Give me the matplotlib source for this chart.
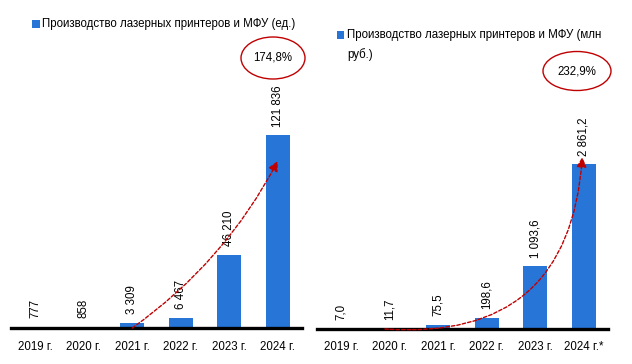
import matplotlib
matplotlib.use("Agg")
import matplotlib.pyplot as plt
from matplotlib.patches import Ellipse, Rectangle
import warnings
warnings.filterwarnings("ignore")

plt.rcParams['font.family'] = ['Liberation Sans', 'DejaVu Sans']

years_left = ["2019 г.", "2020 г.", "2021 г.", "2022 г.", "2023 г.", "2024 г."]
units = [777, 858, 3309, 6467, 46210, 121836]
units_labels = ["777", "858", "3 309", "6 467", "46 210", "121 836"]
legend_left = "Производство лазерных принтеров и МФУ (ед.)"
growth_left = "174,8%"

years_right = ["2019 г.", "2020 г.", "2021 г.", "2022 г.", "2023 г.", "2024 г.*"]
money = [7.0, 11.7, 75.5, 198.6, 1093.6, 2861.2]
money_labels = ["7,0", "11,7", "75,5", "198,6", "1 093,6", "2 861,2"]
legend_right = "Производство лазерных принтеров и МФУ (млн\nруб.)"
growth_right = "232,9%"

BLUE = "#2875D8"
RED = "#C00000"
FS = 8.3
W, H = 632, 364

fig = plt.figure(figsize=(W / 100, H / 100), dpi=100)


def make_axes(x0, x1, ybase, bar_px, vmax):
    top = 5
    ax = fig.add_axes([x0 / W, (H - ybase) / H, (x1 - x0) / W, (ybase - top) / H])
    ax.set_ylim(0, vmax * (ybase - top) / bar_px)
    ax.set_xlim(-0.5, 5.5)
    for s in ["top", "right", "left"]:
        ax.spines[s].set_visible(False)
    ax.spines["bottom"].set_linewidth(2.4)
    ax.spines["bottom"].set_color("black")
    ax.set_yticks([])
    ax.tick_params(axis="x", length=0, pad=9, labelsize=FS)
    ax.patch.set_alpha(0)
    return ax


def draw(ax, cats, vals, labels, leg, leg_pos, growth, ell, arrow_start, arrow_end, rad):
    x = list(range(len(cats)))
    ax.bar(x, vals, width=0.49, color=BLUE)
    ax.set_xticks(x)
    ax.set_xticklabels(cats)
    for xi, v, t in zip(x, vals, labels):
        ax.annotate(t, (xi, v), xytext=(0, 6), textcoords="offset points",
                    rotation=90, ha="center", va="bottom", fontsize=FS)
    # legend: marker square + text (first line centred on the square)
    sx, sy = leg_pos
    fig.patches.append(Rectangle(((sx) / W, (H - sy - 3.5) / H), 7.5 / W, 7.5 / H,
                                 transform=fig.transFigure, color=BLUE, lw=0))
    fig.text((sx + 10) / W, (H - sy + 6) / H, leg, ha="left", va="top",
             fontsize=FS, linespacing=1.75)
    ax.annotate("", xy=arrow_end, xytext=arrow_start,
                arrowprops=dict(arrowstyle="-|>,head_length=0.6,head_width=0.3",
                                color=RED, lw=1.0, linestyle=(0, (2.5, 1.5)),
                                connectionstyle=f"arc3,rad={rad}",
                                shrinkA=0, shrinkB=0))
    cx, cy, ew, eh = ell
    fig.patches.append(Ellipse((cx / W, (H - cy) / H), ew / W, eh / H,
                               transform=fig.transFigure, fill=False,
                               edgecolor=RED, lw=1.0))
    fig.text(cx / W, (H - cy) / H, growth, ha="center", va="center", fontsize=FS)


ax1 = make_axes(11, 302, 328, 193, units[-1])
draw(ax1, years_left, units, units_labels, legend_left, (32, 24),
     growth_left, (273, 58, 64, 42),
     (2.0, 0), (5.0, units[-1] * 167 / 193), 0.12)

ax2 = make_axes(317, 608, 329, 165, money[-1])
draw(ax2, years_right, money, money_labels, legend_right, (337, 35),
     growth_right, (577, 71, 68, 39),
     (0.9, 0), (4.97, money[-1] * 172 / 165), 0.5)

fig.savefig("out.png", dpi=100)
